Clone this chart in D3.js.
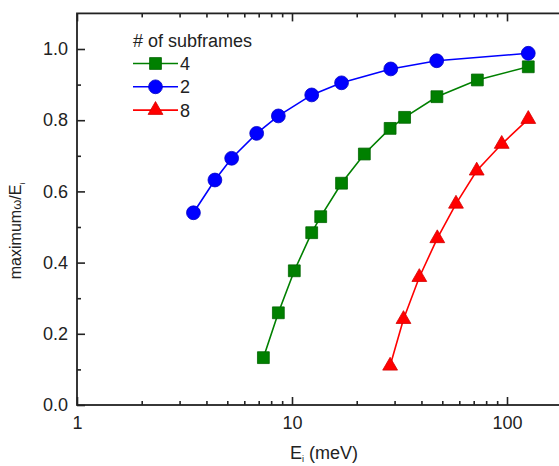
<!DOCTYPE html>
<html>
<head>
<meta charset="utf-8">
<script src="https://cdn.jsdelivr.net/npm/d3@7"></script>
<style>
  html, body { margin: 0; padding: 0; background: #fff; }
  text { font-family: "Liberation Sans", Arial, sans-serif; fill: #222; }
</style>
</head>
<body>
<svg id="chart" width="559" height="466"></svg>
<script>
// ---- data ----
const energy4 = [7.36, 8.64, 10.25, 12.35, 13.6, 17.0, 21.7, 28.6, 33.4, 47.2, 72.8, 125.6];
const ratio4  = [0.133, 0.259, 0.377, 0.484, 0.529, 0.623, 0.705, 0.777, 0.808, 0.866, 0.913, 0.950];

const energy2 = [3.48, 4.38, 5.24, 6.85, 8.64, 12.35, 17.0, 28.8, 47.1, 125.6];
const ratio2  = [0.540, 0.632, 0.693, 0.763, 0.812, 0.871, 0.905, 0.944, 0.967, 0.988];

const energy8 = [28.6, 33.0, 39.1, 47.4, 57.9, 72.3, 94.5, 125.6];
const ratio8  = [0.110, 0.241, 0.359, 0.468, 0.565, 0.658, 0.733, 0.803];

const seriesNames = ["4", "2", "8"];
const xMajorTicks = [1, 10, 100];
const xTickLabels = ["1", "10", "100"];
const yMajorTicks = [0.0, 0.2, 0.4, 0.6, 0.8, 1.0];
const yTickLabels = ["0.0", "0.2", "0.4", "0.6", "0.8", "1.0"];
const yMinorTicks = [0.1, 0.3, 0.5, 0.7, 0.9];
const xMinorTicks = [2,3,4,5,6,7,8,9,20,30,40,50,60,70,80,90,200];

// ---- layout ----
const svg = d3.select("#chart");
const x = d3.scaleLog().domain([1, 200]).range([77, 77 + 215 * Math.log10(200)]);
const y = d3.scaleLinear().domain([0, 1.1]).range([405, 405 - 356 * 1.1]);

const series = [
  { name: seriesNames[0], xs: energy4, ys: ratio4, color: "#008000", stroke: "#006400", symbol: d3.symbolSquare, size: 140 },
  { name: seriesNames[1], xs: energy2, ys: ratio2, color: "#0000ff", stroke: "#0000c8", symbol: d3.symbolCircle, size: 150 },
  { name: seriesNames[2], xs: energy8, ys: ratio8, color: "#ff0000", stroke: "#d40000", symbol: d3.symbolTriangle, size: 95 }
];

const axisColor = "#222";

// bottom axis
const gx = svg.append("g").attr("transform", `translate(0,${y(0)})`);
gx.call(d3.axisBottom(x).tickValues(xMajorTicks)
  .tickFormat((d, i) => xTickLabels[i]).tickSizeInner(-8).tickSizeOuter(0).tickPadding(11));
gx.append("g").call(d3.axisBottom(x).tickValues(xMinorTicks).tickFormat("").tickSizeInner(-4).tickSizeOuter(0));
// top axis
const gxt = svg.append("g").attr("transform", `translate(0,${y(1.1)})`);
gxt.call(d3.axisTop(x).tickValues(xMajorTicks).tickFormat("").tickSizeInner(-8).tickSizeOuter(0));
gxt.append("g").call(d3.axisTop(x).tickValues(xMinorTicks).tickFormat("").tickSizeInner(-4).tickSizeOuter(0));
// left axis
const gy = svg.append("g").attr("transform", `translate(${x(1)},0)`);
gy.call(d3.axisLeft(y).tickValues(yMajorTicks)
  .tickFormat((d, i) => yTickLabels[i]).tickSizeInner(-8).tickSizeOuter(0).tickPadding(9));
gy.append("g").call(d3.axisLeft(y).tickValues(yMinorTicks).tickFormat("").tickSizeInner(-4).tickSizeOuter(0));
// right axis (mostly outside view)
const gyr = svg.append("g").attr("transform", `translate(${x(200)},0)`);
gyr.call(d3.axisRight(y).tickValues(yMajorTicks).tickFormat("").tickSizeInner(-8).tickSizeOuter(0));

svg.selectAll(".domain").remove();
svg.selectAll(".tick line").attr("stroke", axisColor).attr("stroke-width", 1.6);
svg.selectAll(".tick text").attr("font-size", 18).attr("fill", axisColor)
  .attr("font-family", "'Liberation Sans', Arial, sans-serif");

// frame
svg.append("rect")
  .attr("x", x(1)).attr("y", y(1.1))
  .attr("width", x(200) - x(1)).attr("height", y(0) - y(1.1))
  .attr("fill", "none").attr("stroke", axisColor).attr("stroke-width", 1.8);

// series lines and markers
const line = d3.line().x(d => x(d[0])).y(d => y(d[1]));
series.forEach(s => {
  const pts = s.xs.map((v, i) => [v, s.ys[i]]);
  svg.append("path").datum(pts).attr("d", line)
    .attr("fill", "none").attr("stroke", s.color).attr("stroke-width", 1.6);
  svg.append("g").selectAll("path").data(pts).join("path")
    .attr("transform", d => `translate(${x(d[0])},${y(d[1])})`)
    .attr("d", d3.symbol().type(s.symbol).size(s.size))
    .attr("fill", s.color).attr("stroke", s.stroke).attr("stroke-width", 0.8);
});

// legend
const lg = svg.append("g");
lg.append("text").attr("x", 133).attr("y", 47).attr("font-size", 18).text("# of subframes");
series.forEach((s, i) => {
  const cy = 63.5 + i * 23.3;
  lg.append("line").attr("x1", 133).attr("x2", 178).attr("y1", cy).attr("y2", cy)
    .attr("stroke", s.color).attr("stroke-width", 1.6);
  lg.append("path").attr("transform", `translate(155.5,${cy})`)
    .attr("d", d3.symbol().type(s.symbol).size(s.size))
    .attr("fill", s.color).attr("stroke", s.stroke).attr("stroke-width", 0.8);
  lg.append("text").attr("x", 180).attr("y", cy + 6.5).attr("font-size", 18).text(s.name);
});

// axis titles
const xt = svg.append("text").attr("x", 324).attr("y", 459).attr("text-anchor", "middle").attr("font-size", 18);
xt.append("tspan").text("E");
xt.append("tspan").attr("font-size", 9).attr("dy", 3).text("i");
xt.append("tspan").attr("dy", -3).text(" (meV)");

const yt = svg.append("text").attr("transform", "translate(21,231) rotate(-90)")
  .attr("text-anchor", "middle").attr("font-size", 16);
yt.append("tspan").text("maximum");
yt.append("tspan").attr("font-size", 13).text("ω");
yt.append("tspan").text("/E");
yt.append("tspan").attr("font-size", 8).attr("dy", 4).text("i");
</script>
</body>
</html>
